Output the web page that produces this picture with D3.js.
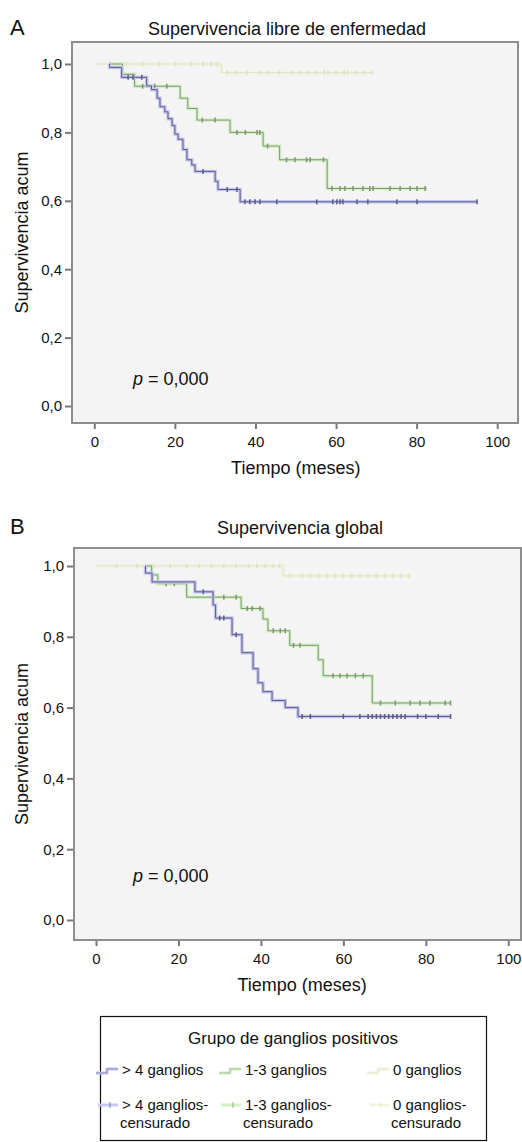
<!DOCTYPE html>
<html>
<head>
<meta charset="utf-8">
<script src="https://cdn.jsdelivr.net/npm/d3@7"></script>
<style>
body { margin: 0; background: #fff; }
svg { display: block; font-family: "Liberation Sans", Arial, sans-serif; }
</style>
</head>
<body>
<svg id="grafico" width="522" height="1142"></svg>
<script>
// ---- datos (tiempo en meses, supervivencia acumulada) ----
const ticksX = [0, 20, 40, 60, 80, 100];
const ticksY = [0, 0.2, 0.4, 0.6, 0.8, 1.0];

// A: supervivencia libre de enfermedad
const A_g4_t = [3.7, 3.8, 6.8, 13, 14.2, 15.6, 16.3, 17.5, 18.3, 19.3, 20, 20.8, 22, 23, 24.2, 25, 30, 30.7, 36.2];
const A_g4_s = [1.0, 0.99, 0.961, 0.936, 0.925, 0.90, 0.875, 0.86, 0.84, 0.82, 0.795, 0.78, 0.75, 0.72, 0.705, 0.686, 0.657, 0.633, 0.597];
const A_g4_fin = 95;
const A_g4_cens = [8.4, 9.6, 11.8, 27, 33, 35.4, 37.4, 38.6, 39.9, 41.1, 45.3, 55.2, 59.2, 60.2, 61, 61.7, 65.2, 67.9, 75.1, 80.1, 95];

const A_g13_t = [3.7, 7, 10, 21.3, 23.2, 25.5, 33.7, 41.9, 46, 57.8];
const A_g13_s = [1.0, 0.97, 0.935, 0.90, 0.87, 0.836, 0.80, 0.76, 0.72, 0.636];
const A_g13_fin = 82.5;
const A_g13_cens = [12, 15, 18, 26.8, 30, 35.4, 37.5, 40.4, 41.1, 43, 47.7, 49.8, 52.7, 53.6, 56.9,
                    59, 61, 62.2, 64.2, 66.7, 68.4, 69.2, 73.4, 75.9, 78.4, 80.1, 82.1];

const A_g0_t = [0, 31.5];
const A_g0_s = [1.0, 0.975];
const A_g0_fin = 69;
const A_g0_cens = [4, 8, 12, 16, 20, 24, 27, 29, 30.5, 33, 35, 38, 41, 43, 46, 49, 51, 53, 55, 57, 58, 60, 62, 63, 65, 67, 69];

// B: supervivencia global
const B_g4_t = [11.9, 12.0, 13.6, 24, 28.4, 29, 33, 35.4, 38.1, 39.3, 40.5, 42.7, 45.9, 49];
const B_g4_s = [1.0, 0.98, 0.955, 0.927, 0.89, 0.853, 0.806, 0.755, 0.71, 0.67, 0.645, 0.62, 0.60, 0.575];
const B_g4_fin = 86;
const B_g4_cens = [26, 30, 31, 34, 50, 52, 60, 64, 66, 67, 68, 69, 70, 71, 72, 73, 74, 75, 78, 80, 83, 86];

const B_g13_t = [12, 13.5, 15, 22, 35.2, 40.5, 41.7, 47, 53.9, 55.1, 67];
const B_g13_s = [1.0, 0.975, 0.95, 0.912, 0.88, 0.85, 0.817, 0.776, 0.735, 0.69, 0.613];
const B_g13_fin = 86;
const B_g13_cens = [17, 19, 31, 34, 36.7, 37.9, 39.8, 43, 44.7, 45.9, 47.9, 49.5, 57.5, 59.2, 60.9, 62.9, 64.8,
                    69, 72.6, 76.2, 78.6, 81, 84.7, 86];

const B_g0_t = [0, 45.4];
const B_g0_s = [1.0, 0.972];
const B_g0_fin = 76.2;
const B_g0_cens = [5, 10, 14, 18, 22, 25, 28, 31, 34, 37, 39, 41, 43, 44.5,
                   47, 50, 52, 54, 56, 58, 60, 62, 64, 66, 68, 70, 72, 74, 76];

const grupos = ["> 4 ganglios", "1-3 ganglios", "0 ganglios"];
const gruposCens = ["> 4 ganglios-", "1-3 ganglios-", "0 ganglios-"];

const colores = {
    g4:  { halo: "#c6c6ee", linea: "#5b5b88" },
    g13: { halo: "#d4f0c6", linea: "#7f9673" },
    g0:  { halo: "#f2f4e2", linea: "#e0e3c2" }
};

const svg = d3.select("#grafico");
const coma = d => d3.format(".1f")(d).replace(".", ",");

function survEn(ts, ss, t) {
    let s = ss[0];
    ts.forEach((ti, i) => { if (ti <= t) s = ss[i]; });
    return s;
}

function panel(cfg) {
    const g = svg.append("g");
    const x = d3.scaleLinear().domain([0, 100]).range(cfg.rx);
    const y = d3.scaleLinear().domain([0, 1]).range(cfg.ry);

    g.append("rect")
        .attr("x", cfg.marco[0]).attr("y", cfg.marco[1])
        .attr("width", cfg.marco[2] - cfg.marco[0])
        .attr("height", cfg.marco[3] - cfg.marco[1])
        .attr("fill", "#f4f4f4")
        .attr("stroke", "#8e8e8e")
        .attr("stroke-width", 2);

    // ejes
    const ejeY = g.append("g")
        .attr("transform", `translate(${cfg.marco[0] - 1},0)`)
        .call(d3.axisLeft(y).tickValues(ticksY).tickFormat(coma).tickSize(6).tickPadding(3));
    const ejeX = g.append("g")
        .attr("transform", `translate(0,${cfg.marco[3] + 1})`)
        .call(d3.axisBottom(x).tickValues(ticksX).tickSize(5).tickPadding(7));
    [ejeY, ejeX].forEach(e => {
        e.select(".domain").remove();
        e.selectAll("line").attr("stroke", "#777").attr("stroke-width", 2);
        e.selectAll("text").attr("fill", "#111").style("font-size", "15px");
    });

    const linea = d3.line().x(d => x(d[0])).y(d => y(d[1])).curve(d3.curveStepAfter);

    cfg.series.forEach(sr => {
        const pts = sr.t.map((t, i) => [t, sr.s[i]]);
        pts.push([sr.fin, sr.s[sr.s.length - 1]]);
        g.append("path").datum(pts)
            .attr("fill", "none").attr("stroke", sr.col.halo).attr("stroke-width", 3.5)
            .attr("d", linea);
        g.append("path").datum(pts)
            .attr("fill", "none").attr("stroke", sr.col.linea).attr("stroke-width", 1)
            .attr("d", linea);
        g.selectAll(null).data(sr.cens).join("line")
            .attr("x1", d => x(d)).attr("x2", d => x(d))
            .attr("y1", d => y(survEn(sr.t, sr.s, d)) - 2.5)
            .attr("y2", d => y(survEn(sr.t, sr.s, d)) + 2.5)
            .attr("stroke", sr.col.linea).attr("stroke-width", 1.5);
    });

    // textos
    g.append("text").attr("x", 10).attr("y", cfg.tituloY).text(cfg.letra)
        .style("font-size", "22px").attr("fill", "#111");
    g.append("text").attr("x", cfg.tituloX).attr("y", cfg.tituloY)
        .attr("text-anchor", "middle").style("font-size", "18px").attr("fill", "#111")
        .text(cfg.titulo);
    g.append("text").attr("x", (cfg.rx[0] + cfg.rx[1]) / 2).attr("y", cfg.ejeXY)
        .attr("text-anchor", "middle").style("font-size", "18px").attr("fill", "#111")
        .text("Tiempo (meses)");
    g.append("text")
        .attr("transform", `translate(28,${(cfg.marco[1] + cfg.marco[3]) / 2}) rotate(-90)`)
        .attr("text-anchor", "middle").style("font-size", "18px").attr("fill", "#111")
        .text("Supervivencia acum");
    const p = g.append("text").attr("x", 133).attr("y", cfg.pY)
        .style("font-size", "18px").attr("fill", "#111");
    p.append("tspan").style("font-style", "italic").text("p");
    p.append("tspan").text(" = 0,000");
}

panel({
    letra: "A", titulo: "Supervivencia libre de enfermedad", tituloX: 287, tituloY: 35,
    marco: [72, 42, 518, 423], rx: [94.3, 497.2], ry: [406, 64], ejeXY: 474, pY: 385,
    series: [
        { t: A_g0_t, s: A_g0_s, fin: A_g0_fin, cens: A_g0_cens, col: colores.g0 },
        { t: A_g13_t, s: A_g13_s, fin: A_g13_fin, cens: A_g13_cens, col: colores.g13 },
        { t: A_g4_t, s: A_g4_s, fin: A_g4_fin, cens: A_g4_cens, col: colores.g4 }
    ]
});

panel({
    letra: "B", titulo: "Supervivencia global", tituloX: 300, tituloY: 534,
    marco: [74, 548, 521, 940], rx: [96, 508.3], ry: [920, 566], ejeXY: 991, pY: 882,
    series: [
        { t: B_g0_t, s: B_g0_s, fin: B_g0_fin, cens: B_g0_cens, col: colores.g0 },
        { t: B_g13_t, s: B_g13_s, fin: B_g13_fin, cens: B_g13_cens, col: colores.g13 },
        { t: B_g4_t, s: B_g4_s, fin: B_g4_fin, cens: B_g4_cens, col: colores.g4 }
    ]
});

// leyenda
const ley = svg.append("g");
ley.append("rect").attr("x", 100.5).attr("y", 1016.5).attr("width", 386).attr("height", 124)
    .attr("fill", "#fff").attr("stroke", "#111").attr("stroke-width", 1.2);
ley.append("text").attr("x", 293).attr("y", 1044).attr("text-anchor", "middle")
    .style("font-size", "17px").attr("fill", "#111").text("Grupo de ganglios positivos");

const colX = [122, 245, 393];
const cols = [colores.g4, colores.g13, colores.g0];
grupos.forEach((nombre, i) => {
    const x0 = colX[i] - 26;
    const seg = d3.line()([[x0, 1073], [x0 + 11, 1073], [x0 + 11, 1069], [x0 + 22, 1069]]);
    ley.append("path").attr("d", seg).attr("fill", "none").attr("stroke", cols[i].halo).attr("stroke-width", 3);
    ley.append("path").attr("d", seg).attr("fill", "none").attr("stroke", cols[i].linea).attr("stroke-width", 1).attr("opacity", 0.5);
    ley.append("text").attr("x", colX[i]).attr("y", 1075).style("font-size", "15px").attr("fill", "#111").text(nombre);

    ley.append("line").attr("x1", x0 + 2).attr("x2", x0 + 22).attr("y1", 1105).attr("y2", 1105)
        .attr("stroke", cols[i].halo).attr("stroke-width", 3);
    ley.append("line").attr("x1", x0 + 14).attr("x2", x0 + 14).attr("y1", 1102).attr("y2", 1108)
        .attr("stroke", cols[i].linea).attr("stroke-width", 1.2).attr("opacity", 0.6);
    ley.append("text").attr("x", colX[i]).attr("y", 1110).style("font-size", "15px").attr("fill", "#111").text(gruposCens[i]);
    ley.append("text").attr("x", colX[i] - 2).attr("y", 1128).style("font-size", "15px").attr("fill", "#111").text("censurado");
});
</script>
</body>
</html>
